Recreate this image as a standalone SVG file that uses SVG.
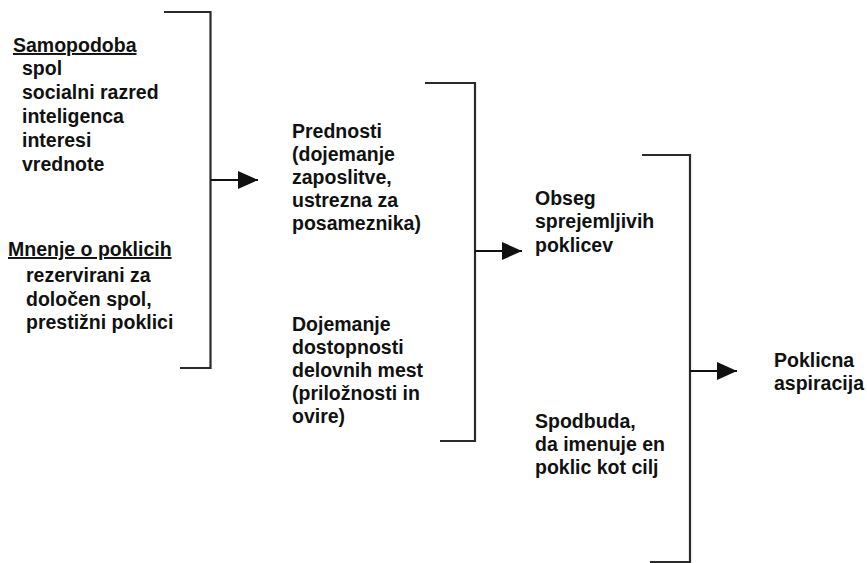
<svg xmlns="http://www.w3.org/2000/svg" width="867" height="563" viewBox="0 0 867 563">
  <style>
    .t { font-family: "Liberation Sans", Arial, sans-serif; font-size: 19.5px; font-weight: bold; fill: #111; }
    .u { text-decoration: underline; }
    .br { fill: none; stroke: #2a2a2a; stroke-width: 2.2; }
    .ar { stroke: #111; stroke-width: 2.2; fill: none; }
  </style>
  <defs>
    <marker id="head" viewBox="0 0 20 18" refX="20" refY="9" markerWidth="20" markerHeight="18" markerUnits="userSpaceOnUse" orient="auto">
      <path d="M0,0 L20,9 L0,18 Z" fill="#111"/>
    </marker>
  </defs>
  <rect width="867" height="563" fill="#fff"/>

  <g id="self-image">
    <text class="t u" x="13" y="52">Samopodoba</text>
    <text class="t" x="22" y="75">spol</text>
    <text class="t" x="22" y="99">socialni razred</text>
    <text class="t" x="22" y="123">inteligenca</text>
    <text class="t" x="22" y="147">interesi</text>
    <text class="t" x="22" y="171">vrednote</text>
  </g>

  <g id="job-opinions">
    <text class="t u" x="8" y="256">Mnenje o poklicih</text>
    <text class="t" x="26" y="282">rezervirani za</text>
    <text class="t" x="26" y="306">določen spol,</text>
    <text class="t" x="26" y="329">prestižni poklici</text>
  </g>

  <g id="preferences">
    <text class="t" x="292" y="138">Prednosti</text>
    <text class="t" x="292" y="161">(dojemanje</text>
    <text class="t" x="292" y="184">zaposlitve,</text>
    <text class="t" x="292" y="207">ustrezna za</text>
    <text class="t" x="292" y="230">posameznika)</text>
  </g>

  <g id="availability">
    <text class="t" x="292" y="331">Dojemanje</text>
    <text class="t" x="292" y="354">dostopnosti</text>
    <text class="t" x="292" y="377">delovnih mest</text>
    <text class="t" x="292" y="400">(priložnosti in</text>
    <text class="t" x="292" y="423">ovire)</text>
  </g>

  <g id="acceptable-range">
    <text class="t" x="535" y="205">Obseg</text>
    <text class="t" x="535" y="228">sprejemljivih</text>
    <text class="t" x="535" y="252">poklicev</text>
  </g>

  <g id="prompt">
    <text class="t" x="535" y="428">Spodbuda,</text>
    <text class="t" x="535" y="451">da imenuje en</text>
    <text class="t" x="535" y="474">poklic kot cilj</text>
  </g>

  <g id="aspiration">
    <text class="t" x="774" y="367">Poklicna</text>
    <text class="t" x="774" y="390">aspiracija</text>
  </g>

  <g id="connectors">
    <polyline class="br" points="164,12 210.5,12 210.5,368 180,368"/>
    <line class="ar" x1="210.5" y1="180" x2="258" y2="180" marker-end="url(#head)"/>
    <polyline class="br" points="425,83 475,83 475,441 440,441"/>
    <line class="ar" x1="475" y1="251" x2="522" y2="251" marker-end="url(#head)"/>
    <polyline class="br" points="642,155 690,155 690,562 650,562"/>
    <line class="ar" x1="690" y1="371" x2="737" y2="371" marker-end="url(#head)"/>
  </g>
</svg>
